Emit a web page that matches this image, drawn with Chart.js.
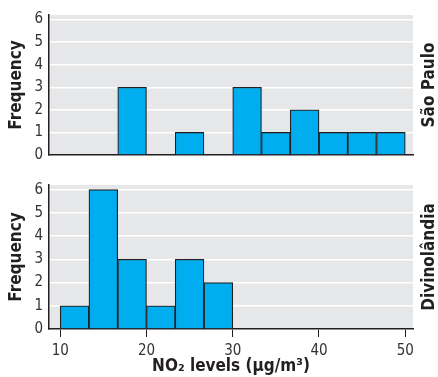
<!DOCTYPE html>
<html>
<head>
<meta charset="utf-8">
<script src="https://cdn.jsdelivr.net/npm/chart.js@4.4.1/dist/chart.umd.min.js"></script>
<style>
  html, body { margin: 0; padding: 0; background: #fff; }
  .box { position: absolute; left: 0; width: 438px; }
  #topBox { top: 0; height: 170px; }
  #botBox { top: 165px; height: 212px; }
</style>
</head>
<body>
<div class="box" id="topBox"><canvas id="chartSP"></canvas></div>
<div class="box" id="botBox"><canvas id="chartDiv"></canvas></div>
<script>
// bins of NO2 levels (µg/m3), width 10/3
const binStart = [10, 13.33, 16.67, 20, 23.33, 26.67, 30, 33.33, 36.67, 40, 43.33, 46.67];
const binWidth = 10 / 3;
const saoPaulo = [0, 0, 3, 0, 1, 0, 3, 1, 2, 1, 1, 1];
const divinolandia = [1, 6, 3, 1, 3, 2, 0, 0, 0, 0, 0, 0];
const xTicks = [10, 20, 30, 40, 50];
const yTicks = [0, 1, 2, 3, 4, 5, 6];

const FONT = "'Liberation Sans Narrow', 'DejaVu Sans Condensed', 'Roboto Condensed', sans-serif";
const INK = '#231f20';

function points(counts) {
  return counts.map((c, i) => ({ x: binStart[i] + binWidth / 2, y: c }));
}

const panelBg = {
  id: 'panelBg',
  beforeDraw(chart) {
    const a = chart.chartArea, ctx = chart.ctx;
    ctx.save();
    ctx.fillStyle = '#e6e7e8';
    ctx.fillRect(a.left, a.top, a.right - a.left, a.bottom - a.top);
    ctx.restore();
  }
};

const sideLabel = {
  id: 'sideLabel',
  afterDraw(chart, args, opts) {
    const a = chart.chartArea, ctx = chart.ctx;
    ctx.save();
    ctx.translate(429.5, (a.top + a.bottom) / 2);
    ctx.rotate(-Math.PI / 2);
    ctx.font = 'bold 17px ' + FONT;
    ctx.fillStyle = INK;
    ctx.textAlign = 'center';
    ctx.textBaseline = 'middle';
    ctx.fillText(opts.text, 0, 0);
    ctx.restore();
  }
};

function makeChart(id, counts, label, showX, pad) {
  return new Chart(id, {
    type: 'bar',
    data: {
      datasets: [{
        label: label,
        data: points(counts),
        backgroundColor: '#00aeef',
        borderColor: INK,
        borderWidth: 1.2,
        borderSkipped: 'bottom',
        barPercentage: 1,
        categoryPercentage: 1
      }]
    },
    options: {
      responsive: true,
      maintainAspectRatio: false,
      animation: false,
      layout: { padding: pad },
      plugins: {
        legend: { display: false },
        tooltip: { enabled: false },
        sideLabel: { text: label }
      },
      scales: {
        x: {
          type: 'linear',
          offset: false,
          min: 8.7,
          max: 50.9,
          afterBuildTicks: s => { s.ticks = xTicks.map(v => ({ value: v })); },
          afterFit: s => { s.height = showX ? 48 : 0; },
          border: { display: true, color: INK, width: 1.5 },
          grid: { display: showX, offset: false, drawOnChartArea: false, drawTicks: true, tickLength: 8, color: INK, lineWidth: 1 },
          ticks: { display: showX, padding: 5, color: '#333', font: { family: FONT, size: 15 } },
          title: {
            display: showX,
            text: 'NO\u2082 levels (\u03bcg/m\u00b3)',
            color: INK,
            padding: { top: 0, bottom: 0 },
            font: { family: FONT, size: 17, weight: 'bold' }
          }
        },
        y: {
          min: 0,
          max: 6.2,
          afterBuildTicks: s => { s.ticks = yTicks.map(v => ({ value: v })); },
          afterFit: s => { s.width = 49; },
          border: { display: true, color: INK, width: 1.5 },
          grid: { color: '#ffffff', lineWidth: 1.5, drawTicks: false },
          ticks: { padding: 6, color: '#333', font: { family: FONT, size: 15 } },
          title: {
            display: true,
            text: 'Frequency',
            color: INK,
            padding: { top: 6, bottom: 0 },
            font: { family: FONT, size: 17, weight: 'bold' }
          }
        }
      }
    },
    plugins: [panelBg, sideLabel]
  });
}

makeChart('chartSP', saoPaulo, 'São Paulo', false, { top: 13, bottom: 13, left: 0, right: 25 });
makeChart('chartDiv', divinolandia, 'Divinolândia', true, { top: 20, bottom: 0, left: 0, right: 25 });
</script>
</body>
</html>
